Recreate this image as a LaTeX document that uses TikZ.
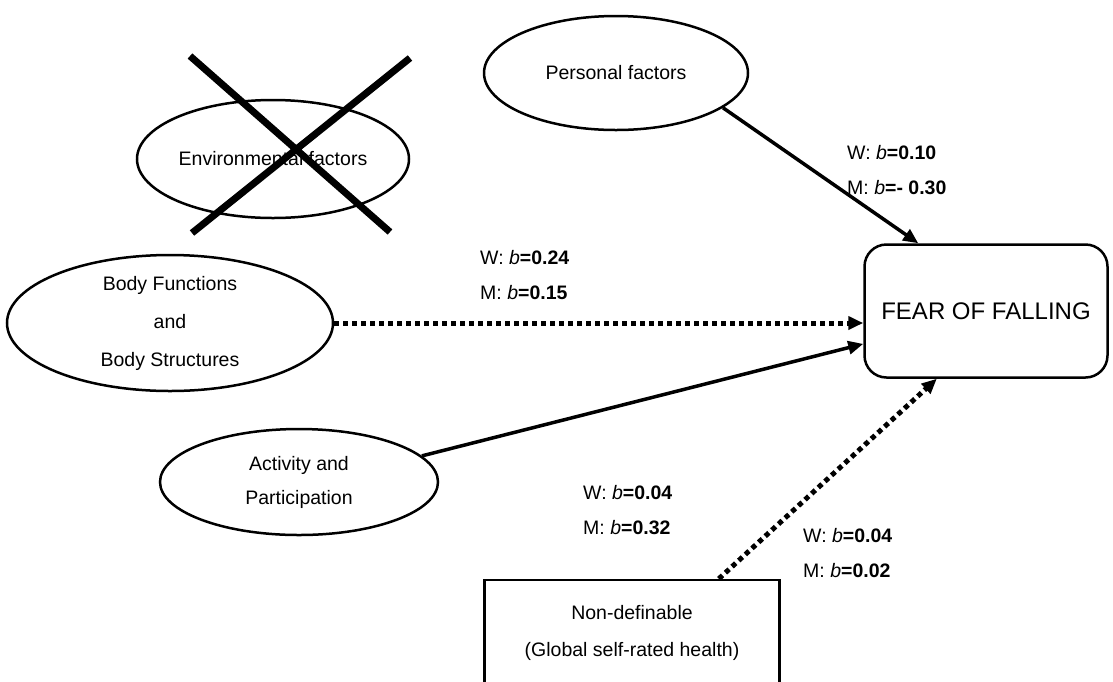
\documentclass[tikz,border=0pt]{standalone}
\usepackage{fontspec}
\setmainfont{Liberation Sans}
\usetikzlibrary{shapes,arrows.meta}

\begin{document}
\begin{tikzpicture}[x=1pt,y=-1pt,
  factor/.style={ellipse,draw,line width=2.5pt,inner sep=0pt,align=center,font=\fontsize{19.5}{38}\selectfont},
  coef/.style={anchor=west,align=left,inner sep=0pt,font=\fontsize{19.5}{35}\selectfont},
  effect/.style={line width=3.5pt,-{Triangle[length=15pt,width=13pt]}},
  weak/.style={effect,line width=5pt,dash pattern=on 5pt off 4pt}]
\useasboundingbox (0,0) rectangle (1113,681);
\node[factor,minimum width=264pt,minimum height=114pt] (personal) at (616,73) {Personal factors};
\node[factor,minimum width=272pt,minimum height=118pt] (environment) at (273,159) {Environmental factors};
\node[factor,minimum width=326pt,minimum height=136pt] (body) at (170,323) {Body Functions\\and\\Body Structures};
\node[factor,minimum width=278pt,minimum height=106pt,font=\fontsize{19.5}{34}\selectfont] (activity) at (299,482) {Activity and\\Participation};
\node[draw,line width=2.5pt,minimum width=295pt,minimum height=106pt,align=center,font=\fontsize{19.5}{37}\selectfont] (nondef) at (632,633) {Non-definable\\(Global self-rated health)};
\node[draw,line width=2.5pt,rounded corners=22pt,minimum width=243pt,minimum height=133pt,font=\fontsize{24}{28}\selectfont] (fof) at (986,311) {FEAR OF FALLING};
\draw[line width=7pt] (190,56) -- (390,232) (410,58) -- (192,233);
\draw[effect] (personal.-18) -- (fof.135);
\draw[weak] (body.east) -- (body.east -| fof.west);
\draw[effect] (activity.12) -- (fof.195);
\draw[weak] (nondef.32) -- (fof.234);
\node[coef] (wmpersonal) at (847,170) {W: \textit{b}\textbf{=0.10}\\M: \textit{b}\textbf{=- 0.30}};
\node[coef] (wmbody) at (480,275) {W: \textit{b}\textbf{=0.24}\\M: \textit{b}\textbf{=0.15}};
\node[coef] (wmactivity) at (583,510) {W: \textit{b}\textbf{=0.04}\\M: \textit{b}\textbf{=0.32}};
\node[coef] (wmnondef) at (803,553) {W: \textit{b}\textbf{=0.04}\\M: \textit{b}\textbf{=0.02}};
\end{tikzpicture}
\end{document}
